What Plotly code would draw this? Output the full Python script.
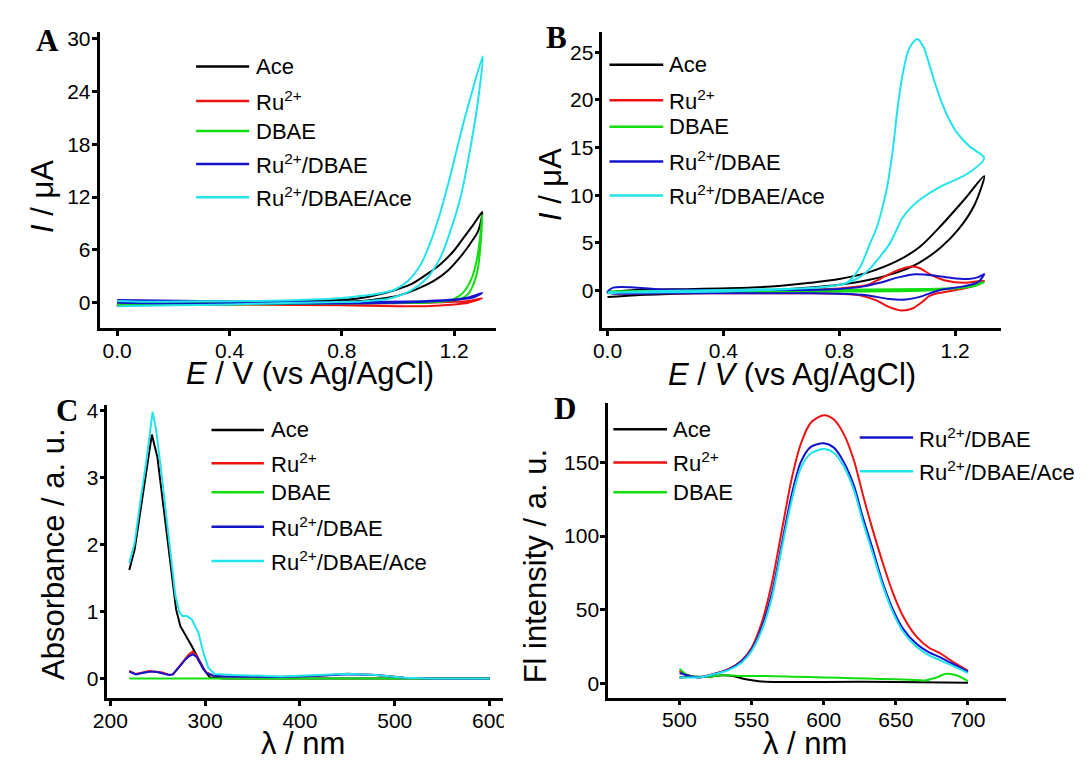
import plotly.graph_objects as go

# ---------------- data ----------------
# Panel A: cyclic voltammograms (E / V, I / uA), scan 0 -> 1.3 -> 0 V
A_ace_E = [0.0, 0.2, 0.4, 0.6, 0.70, 0.79, 0.85, 0.907, 0.95, 1.001, 1.071, 1.129, 1.176, 1.222, 1.257, 1.286, 1.30,
           1.269, 1.234, 1.199, 1.152, 1.106, 1.047, 0.966, 0.90, 0.85, 0.79, 0.70, 0.6, 0.4, 0.2, 0.0]
A_ace_I = [-0.3, -0.25, -0.2, -0.05, 0.0, 0.05, 0.15, 0.3, 0.5, 0.8, 1.6, 2.5, 3.6, 5.2, 6.7, 8.2, 10.3,
           8.9, 7.4, 5.9, 4.4, 3.3, 2.1, 1.2, 0.7, 0.45, 0.3, 0.2, 0.15, 0.1, 0.05, 0.1]
A_ru_E = [0.0, 0.3, 0.6, 0.9, 1.1, 1.2, 1.25, 1.30, 1.25, 1.2, 1.1, 1.0, 0.8, 0.5, 0.2, 0.0]
A_ru_I = [-0.3, -0.2, -0.15, -0.1, 0.0, 0.1, 0.2, 0.5, 0.0, -0.2, -0.4, -0.4, -0.3, -0.25, -0.2, -0.3]
A_dbae_E = [0.0, 0.2, 0.4, 0.6, 0.8, 1.0, 1.1, 1.18, 1.22, 1.245, 1.265, 1.28, 1.29, 1.30,
            1.295, 1.285, 1.27, 1.25, 1.22, 1.1, 0.9, 0.6, 0.4, 0.2, 0.0]
A_dbae_I = [-0.2, -0.2, -0.2, -0.15, -0.1, -0.05, 0.0, 0.2, 0.8, 1.7, 3.0, 4.8, 6.8, 10.0,
            7.0, 4.0, 2.2, 1.0, 0.4, 0.05, 0.0, 0.0, 0.0, 0.0, 0.0]
A_rud_E = [0.0, 0.3, 0.6, 0.9, 1.1, 1.2, 1.25, 1.30, 1.27, 1.2, 1.1, 1.0, 0.8, 0.5, 0.2, 0.0]
A_rud_I = [0.3, 0.2, 0.1, 0.1, 0.2, 0.35, 0.6, 1.1, 0.6, 0.3, 0.1, 0.0, -0.1, -0.1, -0.1, 0.0]
A_all_E = [0.0, 0.2, 0.4, 0.6, 0.75, 0.849, 0.91, 0.966, 1.047, 1.106, 1.152, 1.187, 1.222, 1.251, 1.281, 1.302,
           1.257, 1.222, 1.187, 1.152, 1.117, 1.082, 1.036, 0.989, 0.907, 0.85, 0.79, 0.7, 0.5, 0.3, 0.1, 0.0]
A_all_I = [-0.4, -0.3, -0.2, -0.05, 0.05, 0.1, 0.25, 0.45, 1.4, 2.9, 5.2, 8.2, 11.9, 16.4, 22.1, 28.0,
           23.2, 19.05, 14.5, 10.4, 7.0, 4.4, 2.5, 1.5, 0.9, 0.7, 0.5, 0.35, 0.2, 0.15, 0.1, 0.2]

# Panel B: cyclic voltammograms (E / V, I / uA)
B_ace_E = [0.0, 0.1, 0.3, 0.5, 0.6, 0.7, 0.8, 0.9, 1.0, 1.075, 1.154, 1.233, 1.30,
           1.267, 1.211, 1.15, 1.075, 1.0, 0.9, 0.8, 0.7, 0.5, 0.3, 0.1, 0.0]
B_ace_I = [-0.2, 0.05, 0.15, 0.3, 0.5, 0.8, 1.2, 1.9, 3.1, 4.5, 6.9, 9.6, 12.0,
           9.0, 6.4, 4.5, 2.9, 1.9, 1.1, 0.6, 0.3, -0.1, -0.3, -0.5, -0.7]
B_ru_E = [0.0, 0.2, 0.5, 0.7, 0.8, 0.85, 0.9, 0.94, 0.985, 1.02, 1.052, 1.08, 1.11, 1.166, 1.233, 1.30,
          1.27, 1.211, 1.16, 1.132, 1.11, 1.086, 1.052, 1.013, 0.973, 0.928, 0.871, 0.804, 0.7, 0.5, 0.2, 0.0]
B_ru_I = [-0.3, 0.0, 0.05, 0.1, 0.2, 0.35, 0.6, 1.2, 1.9, 2.3, 2.5, 2.3, 1.75, 1.05, 0.8, 1.0,
          0.5, 0.1, -0.2, -0.35, -0.6, -1.2, -1.9, -2.1, -1.75, -1.05, -0.5, -0.35, -0.3, -0.3, -0.3, -0.3]
B_dbae_E = [0.0, 0.3, 0.6, 0.9, 1.1, 1.2, 1.25, 1.30, 1.27, 1.2, 1.1, 0.9, 0.6, 0.3, 0.0]
B_dbae_I = [-0.1, 0.0, 0.05, 0.1, 0.15, 0.25, 0.45, 0.9, 0.5, 0.2, 0.0, -0.1, -0.1, -0.15, -0.1]
B_rud_E = [0.0, 0.02, 0.2, 0.5, 0.7, 0.8, 0.88, 0.939, 1.007, 1.064, 1.132, 1.188, 1.245, 1.28, 1.30,
           1.28, 1.233, 1.143, 1.075, 1.03, 0.973, 0.894, 0.804, 0.7, 0.5, 0.2, 0.0]
B_rud_I = [-0.2, 0.3, 0.1, 0.05, 0.05, 0.15, 0.4, 0.8, 1.4, 1.7, 1.55, 1.3, 1.2, 1.4, 1.7,
           0.9, 0.45, 0.0, -0.7, -0.95, -0.9, -0.5, -0.35, -0.3, -0.3, -0.3, -0.2]
B_all_E = [0.0, 0.1, 0.3, 0.5, 0.65, 0.75, 0.826, 0.871, 0.905, 0.928, 0.962, 0.984, 1.001, 1.018, 1.041,
           1.069, 1.09, 1.11, 1.13, 1.155, 1.18, 1.21, 1.25, 1.30,
           1.245, 1.143, 1.086, 1.052, 1.018, 0.996, 0.973, 0.939, 0.905, 0.871, 0.815, 0.75, 0.6, 0.4, 0.2, 0.0]
B_all_I = [-0.3, -0.1, 0.0, 0.1, 0.2, 0.4, 0.8, 2.4, 4.86, 6.5, 10.4, 14.6, 19.1, 22.6, 25.4,
           26.4, 25.6, 23.8, 21.8, 19.6, 17.9, 16.4, 15.1, 13.9,
           12.3, 10.8, 9.7, 8.85, 7.6, 6.25, 4.86, 3.5, 2.26, 1.4, 0.7, 0.35, 0.1, -0.1, -0.2, -0.2]

# Panel C: UV-vis absorption (wavelength / nm, absorbance)
C_ace_wl = [220, 225.6, 232.4, 237.6, 243.8, 249.7, 254.9, 260.1, 265.3, 269.4, 273.9, 279.1, 286, 293,
            299.8, 305, 320, 400, 500, 600]
C_ace_abs = [1.62, 1.92, 2.56, 3.05, 3.64, 3.30, 2.71, 2.11, 1.47, 1.03, 0.78, 0.66, 0.48, 0.29,
             0.11, 0.015, 0.0, 0.0, 0.0, 0.0]
C_ru_wl = [220, 227, 234, 241, 248, 255, 262, 266, 270.5, 275, 279, 283, 287, 291, 294.6, 298, 301.5,
           308.5, 320, 380, 420, 450, 480, 510, 540, 600]
C_ru_abs = [0.11, 0.065, 0.09, 0.11, 0.10, 0.09, 0.05, 0.06, 0.14, 0.22, 0.29, 0.36, 0.40, 0.34, 0.24,
            0.15, 0.09, 0.04, 0.03, 0.02, 0.04, 0.07, 0.05, 0.01, 0.0, 0.0]
C_dbae_wl = [220, 300, 400, 500, 600]
C_dbae_abs = [0.0, 0.0, 0.0, 0.0, 0.0]
C_rud_wl = C_ru_wl
C_rud_abs = [0.10, 0.06, 0.08, 0.10, 0.10, 0.08, 0.05, 0.06, 0.13, 0.21, 0.28, 0.33, 0.36, 0.32, 0.23,
             0.14, 0.08, 0.04, 0.03, 0.02, 0.04, 0.06, 0.05, 0.01, 0.0, 0.0]
C_all_wl = [220, 225.6, 232.4, 237.6, 244.6, 248, 253.2, 258.3, 263.5, 268.7, 272.8, 276, 280.8, 286, 293,
            298.1, 303.3, 310, 330, 380, 420, 450, 480, 510, 540, 600]
C_all_abs = [1.72, 2.02, 2.71, 3.2, 3.98, 3.74, 3.15, 2.51, 1.87, 1.23, 0.99, 0.93, 0.93, 0.88, 0.68,
             0.39, 0.16, 0.065, 0.05, 0.03, 0.05, 0.07, 0.05, 0.01, 0.0, 0.0]

# Panel D: fluorescence emission (wavelength / nm, intensity)
D_wl = [500, 507, 514, 523, 534, 543, 550, 557, 564, 571, 577.5, 584, 591, 600, 607, 614, 621, 627, 634,
        641, 648, 655, 664, 673, 680, 688, 700]
D_ru = [8.5, 5.2, 4.0, 6.3, 9.7, 15.3, 24.2, 41.1, 68.0, 104, 137.6, 162.3, 176.9, 182, 179.1, 169, 151.1,
        128.6, 104, 81.5, 61.3, 45.6, 32.1, 24.2, 20.9, 15.7, 8.5]
D_rud = [7, 5, 4, 6, 9.5, 15, 23, 38, 61, 95, 127, 150, 160.5, 163, 160, 150, 134, 113, 91, 68, 50, 37,
         27, 21, 18, 14, 8]
D_all = [4, 4, 4, 6, 9, 14, 22, 36, 58, 92, 123, 146, 156, 159, 156.5, 147, 131, 110, 88, 66, 48, 35,
         25, 19, 16, 12.5, 7]
D_dbae_wl = [500, 505, 512, 520, 530, 545, 560, 580, 600, 620, 640, 660, 670, 678, 685, 692, 700]
D_dbae = [10, 6, 4.5, 4.5, 5.5, 5, 5, 4.5, 4, 3.5, 3, 2.5, 2, 4, 6.5, 5.5, 1.5]
D_ace_wl = [500, 510, 520, 530, 537, 545, 555, 570, 600, 650, 700]
D_ace = [4, 4.5, 4.5, 5.5, 5, 3, 1.5, 1, 1, 1, 0.5]

names = ["Ace", "Ru<sup>2+</sup>", "DBAE", "Ru<sup>2+</sup>/DBAE", "Ru<sup>2+</sup>/DBAE/Ace"]
colors = ["#000000", "#ee1111", "#11dd11", "#1414cc", "#22e3ea"]

# ---------------- figure ----------------
W, H = 1091, 762
FONT = "Liberation Sans, Arial, sans-serif"


def fx(p):
    return p / W


def fy(p):
    return 1 - p / H


fig = go.Figure()

panels = [
    ("x", "y", [(A_ace_E, A_ace_I), (A_ru_E, A_ru_I), (A_dbae_E, A_dbae_I), (A_rud_E, A_rud_I), (A_all_E, A_all_I)], "spline"),
    ("x2", "y2", [(B_ace_E, B_ace_I), (B_ru_E, B_ru_I), (B_dbae_E, B_dbae_I), (B_rud_E, B_rud_I), (B_all_E, B_all_I)], "spline"),
    ("x3", "y3", [(C_ace_wl, C_ace_abs), (C_ru_wl, C_ru_abs), (C_dbae_wl, C_dbae_abs), (C_rud_wl, C_rud_abs), (C_all_wl, C_all_abs)], "linear"),
    ("x4", "y4", [(D_ace_wl, D_ace), (D_wl, D_ru), (D_dbae_wl, D_dbae), (D_wl, D_rud), (D_wl, D_all)], "spline"),
]
for xa, ya, series, shape in panels:
    for (xs, ys), name, col in zip(series, names, colors):
        line = dict(color=col, width=2, shape=shape)
        if shape == "spline":
            line["smoothing"] = 0.8
        fig.add_trace(go.Scatter(x=xs, y=ys, mode="lines", name=name, line=line,
                                 xaxis=xa, yaxis=ya, showlegend=False))

axis_style = dict(showline=True, linecolor="black", linewidth=2.5, ticks="outside", ticklen=5,
                  tickwidth=2.5, tickcolor="black", showgrid=False, zeroline=False,
                  ticklabelstandoff=-3,
                  tickfont=dict(family=FONT, size=21, color="black"))

fig.update_layout(
    width=W, height=H, margin=dict(l=0, r=0, t=0, b=0),
    paper_bgcolor="white", plot_bgcolor="white", showlegend=False,
    xaxis=dict(domain=[fx(86), fx(490)], range=[-0.063, 1.3506], anchor="y",
               tickvals=[0, 0.4, 0.8, 1.2], tickformat=".1f", **axis_style),
    yaxis=dict(domain=[fy(325), fy(26)], range=[-2.93, 30.79], anchor="x",
               tickvals=[0, 6, 12, 18, 24, 30], **axis_style),
    xaxis2=dict(domain=[fx(597.7), fx(1003)], range=[-0.018, 1.3565], anchor="y2",
                tickvals=[0, 0.4, 0.8, 1.2], tickformat=".1f", **axis_style),
    yaxis2=dict(domain=[fy(325), fy(26.7)], range=[-3.99, 27.08], anchor="x2",
                tickvals=[0, 5, 10, 15, 20, 25], **axis_style),
    xaxis3=dict(domain=[fx(94), fx(496.7)], range=[196.9, 614.2], anchor="y3",
                tickvals=[200, 300, 400, 500, 600], **axis_style),
    yaxis3=dict(domain=[fy(697.3), fy(401.7)], range=[-0.29, 4.089], anchor="x3",
                tickvals=[0, 1, 2, 3, 4], **axis_style),
    xaxis4=dict(domain=[fx(603.6), fx(1008.5)], range=[450.5, 726.3], anchor="y4",
                tickvals=[500, 550, 600, 650, 700], **axis_style),
    yaxis4=dict(domain=[fy(697), fy(400)], range=[-9.6, 190.4], anchor="x4",
                tickvals=[0, 50, 100, 150], **axis_style),
)

annotations = []
shapes = []


def text(x, y, s, size, angle=0, family=FONT, xanchor="center"):
    annotations.append(dict(x=fx(x), y=fy(y), xref="paper", yref="paper", text=s, showarrow=False,
                            textangle=angle, xanchor=xanchor, yanchor="middle",
                            font=dict(family=family, size=size, color="black")))


# panel letters
for letter, (lx, ly) in zip("ABCD", [(33.5, 35), (551, 32), (52.5, 408), (560, 406)]):
    text(lx, ly, "<b>%s</b>" % letter, 31, family="Liberation Serif, Times New Roman, serif")

# axis titles
text(28, 192, "<i>I</i> / μA", 31, angle=-90)
text(300, 370, "<i>E</i> / V (vs Ag/AgCl)", 31)
text(545, 180, "<i>I</i> / μA", 31, angle=-90)
text(791, 371, "<i>E</i> / <i>V</i> (vs Ag/AgCl)", 31)
text(39, 552, "Absorbance / a. u.", 31, angle=-90)
text(293, 743, "λ / nm", 31)
text(530, 565, "Fl intensity / a. u.", 31, angle=-90)
text(804, 743, "λ / nm", 31)


# legend keys: (line x0, line x1, text x, row y positions, series indices)
def legend(x0, x1, tx, rows, idx):
    for y, i in zip(rows, idx):
        shapes.append(dict(type="line", xref="paper", yref="paper", x0=fx(x0), x1=fx(x1), y0=fy(y), y1=fy(y),
                           line=dict(color=colors[i], width=2.5)))
        text(tx, y, names[i], 22, xanchor="left")


legend(184.3, 238.3, 243, [61, 95.7, 126, 159.3, 192.7], range(5))
legend(605, 659.7, 664, [59.3, 95, 121.7, 156.7, 191], range(5))
legend(200, 253.3, 259, [427.3, 461, 490, 525, 559.3], range(5))
legend(609, 663.6, 668, [426.7, 460, 490], [0, 1, 2])
legend(859.7, 914, 918, [435, 469], [3, 4])

# the neighbouring panel trims the right edge of the last C tick label
shapes.append(dict(type="rect", xref="paper", yref="paper", x0=fx(497.5), x1=fx(512), y0=fy(728), y1=fy(699),
                   fillcolor="white", line=dict(width=0), layer="above"))

fig.update_layout(annotations=annotations, shapes=shapes)
fig.write_html("out.html")
